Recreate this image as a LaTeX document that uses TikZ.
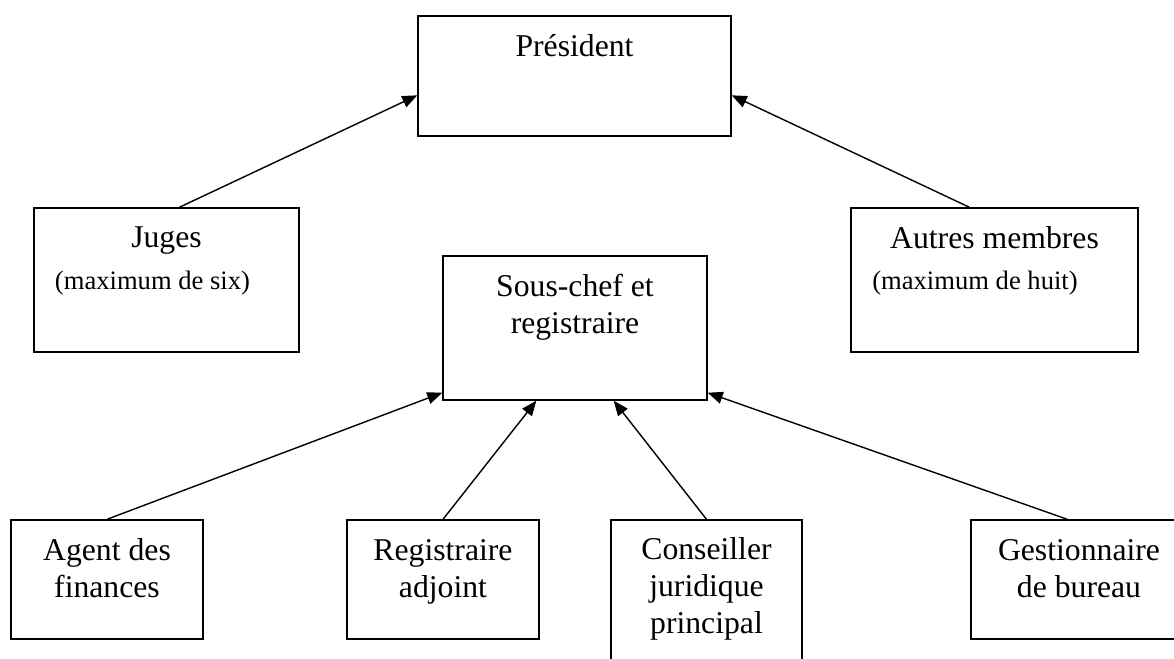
\documentclass[tikz,border=0pt]{standalone}
\usepackage{fontspec}
\setmainfont{Liberation Serif}
\usetikzlibrary{arrows.meta}

\begin{document}
\begin{tikzpicture}[x=1pt,y=-1pt,
    box/.style={draw, line width=1.4pt, inner sep=0pt},
    txt/.style={anchor=base, align=center, inner sep=0pt, font=\fontsize{31.7}{37}\selectfont},
    small/.style={anchor=base, inner sep=0pt, font=\fontsize{26.6}{31}\selectfont},
    link/.style={line width=1.4pt, -{Triangle[length=15pt,width=12pt]}}]
        \useasboundingbox (0,0) rectangle (1174,658);
        \node[box, minimum width=313pt, minimum height=120pt] (pres) at (574.5,76) {};
        \node[box, minimum width=265pt, minimum height=144pt] (juges) at (166.5,280) {};
        \node[box, minimum width=287pt, minimum height=144pt] (autres) at (994.5,280) {};
        \node[box, minimum width=264pt, minimum height=144pt] (sous) at (575,328) {};
        \node[box, minimum width=192pt, minimum height=119pt] (agent) at (107,579.5) {};
        \node[box, minimum width=192pt, minimum height=119pt] (adj) at (443,579.5) {};
        \node[box, minimum width=191pt, minimum height=155pt] (cons) at (706.5,597.5) {};
        \node[box, minimum width=216pt, minimum height=119pt] (gest) at (1079,579.5) {};
        \node[txt] (pres-t) at (574.5,57) {Président};
        \node[txt] (juges-t) at (166.5,247) {Juges};
        \node[small] (juges-n) at (152.5,289) {(maximum de six)};
        \node[txt] (autres-t) at (994.5,248) {Autres membres};
        \node[small] (autres-n) at (975,289) {(maximum de huit)};
        \node[txt] (sous-t) at (575,333) {Sous-chef et\\registraire};
        \node[txt] (agent-t) at (107,597) {Agent des\\finances};
        \node[txt] (adj-t) at (443,597) {Registraire\\adjoint};
        \node[txt] (cons-t) at (706.5,633) {Conseiller\\juridique\\principal};
        \node[txt] (gest-t) at (1079,597) {Gestionnaire\\de bureau};
        \draw[link] (juges.80) -- (pres.187);
        \draw[link] (autres.109) -- (pres.-7);
        \draw[link] (agent.north) -- (sous.206);
        \draw[link] (adj.north) -- (sous.242);
        \draw[link] (cons.north) -- (sous.298);
        \draw[link] (gest.101) -- (sous.334);
      \end{tikzpicture}
\end{document}
